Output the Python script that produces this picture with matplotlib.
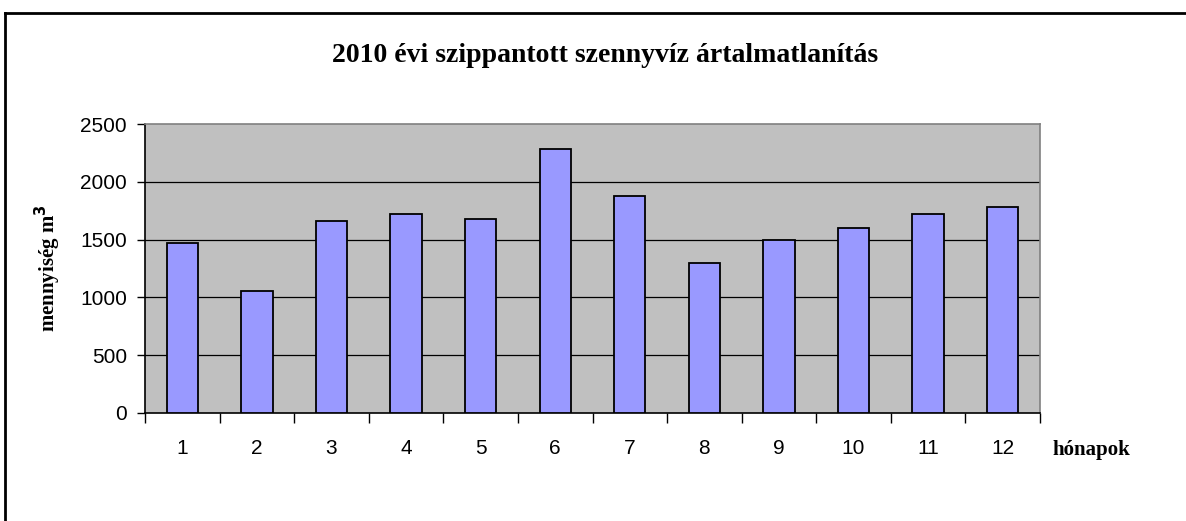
import matplotlib
matplotlib.use("Agg")
import matplotlib.pyplot as plt
from matplotlib.lines import Line2D

months = ["1", "2", "3", "4", "5", "6", "7", "8", "9", "10", "11", "12"]
values = [1470, 1055, 1660, 1720, 1675, 2280, 1880, 1295, 1500, 1600, 1720, 1785]
yticks = [0, 500, 1000, 1500, 2000, 2500]

title = "2010 évi szippantott szennyvíz ártalmatlanítás"
ylabel = "mennyiség m$^{\\mathbf{3}}$"
xlabel = "hónapok"

fig = plt.figure(figsize=(11.86, 5.21), dpi=100)
fig.patch.set_facecolor("white")

# outer chart border (top and left visible)
fig.add_artist(Line2D([4.5/1186, 1.0], [1-12.5/521, 1-12.5/521], color="black", lw=2,
                      transform=fig.transFigure))
fig.add_artist(Line2D([4.5/1186, 4.5/1186], [0, 1-12.5/521], color="black", lw=2,
                      transform=fig.transFigure))

ax = fig.add_axes([145/1186, (521-413)/521, 895/1186, 289/521])
ax.set_facecolor("#C0C0C0")

x = list(range(len(months)))
ax.bar(x, values, width=0.42, color="#9999FF", edgecolor="black", linewidth=1.3, zorder=3)

ax.set_xlim(-0.5, len(months) - 0.5)
ax.set_ylim(0, 2500)
ax.set_yticks(yticks)
ax.set_yticklabels([str(v) for v in yticks], fontsize=15, family="Liberation Sans")
for v in yticks[1:-1]:
    ax.axhline(v, color="black", lw=0.9, zorder=1)

ax.set_xticks(x)
ax.set_xticklabels(months, fontsize=15, family="Liberation Sans")
ax.tick_params(axis="x", length=0, pad=19)
ax.set_xticks([i - 0.5 for i in range(len(months) + 1)], minor=True)
ax.tick_params(axis="x", which="minor", length=7, width=1, color="black", direction="out")
ax.tick_params(axis="y", length=6, width=1, color="black", direction="out", pad=7)

ax.spines["left"].set_color("black")
ax.spines["bottom"].set_color("black")
ax.spines["left"].set_linewidth(1.2)
ax.spines["bottom"].set_linewidth(1.2)
ax.spines["top"].set_color("#808080")
ax.spines["right"].set_color("#808080")
ax.spines["top"].set_linewidth(1.2)
ax.spines["right"].set_linewidth(1.2)

fig.text(605/1186, 1-55/521, title, ha="center", va="center", fontsize=20,
         fontweight="bold", family="Liberation Serif")
fig.text(48/1186, 1-268/521, ylabel, ha="center", va="center", rotation=90, fontsize=15,
         fontweight="bold", family="Liberation Serif")
fig.text(1052/1186, 1-450/521, xlabel, ha="left", va="center", fontsize=15,
         fontweight="bold", family="Liberation Serif")

fig.savefig("out.png", dpi=100, facecolor="white")
